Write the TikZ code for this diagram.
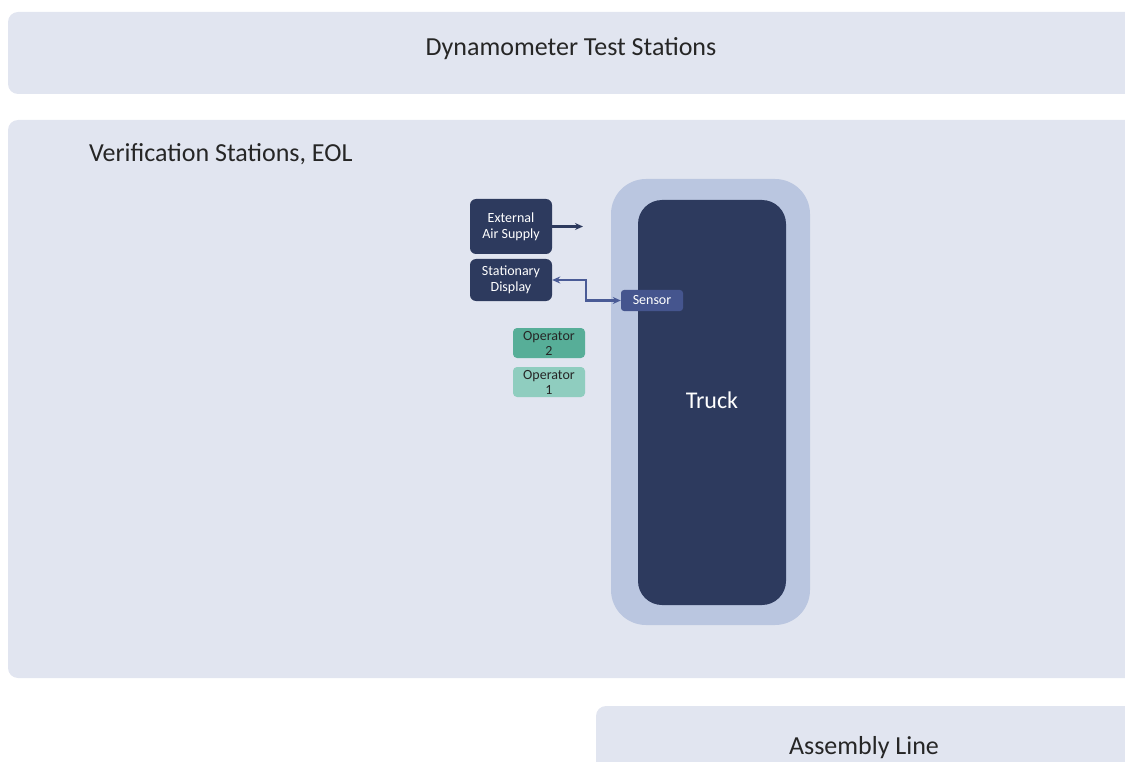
\documentclass[tikz,border=0pt]{standalone}
\usepackage{fontspec}
\setmainfont{Carlito}
\usetikzlibrary{arrows.meta}

\definecolor{areafill}{HTML}{E1E5F0}
\definecolor{truckrim}{HTML}{BAC6E0}
\definecolor{truckbody}{HTML}{2D3A5E}
\definecolor{sensorblue}{HTML}{45558E}
\definecolor{linkblue}{HTML}{4A5B96}
\definecolor{optwo}{HTML}{57AE98}
\definecolor{opone}{HTML}{8FCDBF}
\definecolor{labeltext}{HTML}{262626}

\tikzset{
  area/.style={fill=areafill, draw=none, rounded corners=10pt},
  areatitle/.style={text=labeltext, font=\fontsize{26}{30}\selectfont},
  device/.style={fill=truckbody, draw=none, rounded corners=6pt, text=white,
    font=\fontsize{14}{16}\selectfont, align=center, inner sep=0pt},
  operator/.style={draw=none, rounded corners=4pt, text=labeltext,
    font=\fontsize{14}{15}\selectfont, align=center, inner sep=0pt,
    minimum width=72pt, minimum height=30pt},
  >={Stealth[length=8pt, width=7pt]},
}

\begin{document}
\begin{tikzpicture}[x=1pt, y=-1pt]

    \useasboundingbox (0,0) rectangle (1125,762);
    \clip (0,0) rectangle (1125,762);

    % areas of the plant
    \fill[area] (8,12) rectangle (1150,94);
    \fill[area] (8,120) rectangle (1150,678);
    \fill[area] (596,706) rectangle (1150,800);

    \node[areatitle] (dyno) at (571,49) {Dynamometer Test Stations};
    \node[areatitle, anchor=west, inner sep=0pt] (eol) at (89,154) {Verification Stations, EOL};
    \node[areatitle] (asm) at (864,748) {Assembly Line};

    % the truck
    \fill[truckrim, rounded corners=35pt] (611,179) rectangle (810,625);
    \fill[truckbody, rounded corners=24pt] (638,200) rectangle (786,605);
    \node[text=white, font=\fontsize{24}{28}\selectfont] (truck) at (712,400) {Truck};

    % equipment
    \node[device, minimum width=82pt, minimum height=55pt] (air) at (511,226.5) {External\\Air Supply};
    \node[device, minimum width=82pt, minimum height=42pt] (disp) at (511,280) {Stationary\\Display};
    \node[device, fill=sensorblue, rounded corners=3pt, minimum width=62pt, minimum height=21pt] (sensor) at (652,300.5) {Sensor};
    \coordinate (airout) at (583,226.5);

    \node[operator, fill=optwo] (op2) at (549,343) {Operator\\2};
    \node[operator, fill=opone] (op1) at (549,382) {Operator\\1};

    % connections
    \draw[truckbody, line width=2.5pt, ->] (air.east) -- (airout);
    \draw[linkblue, line width=2.5pt, <->]
        (disp.east) -- (586,280) -- (586,300.5) -- (sensor.west);

\end{tikzpicture}
\end{document}
